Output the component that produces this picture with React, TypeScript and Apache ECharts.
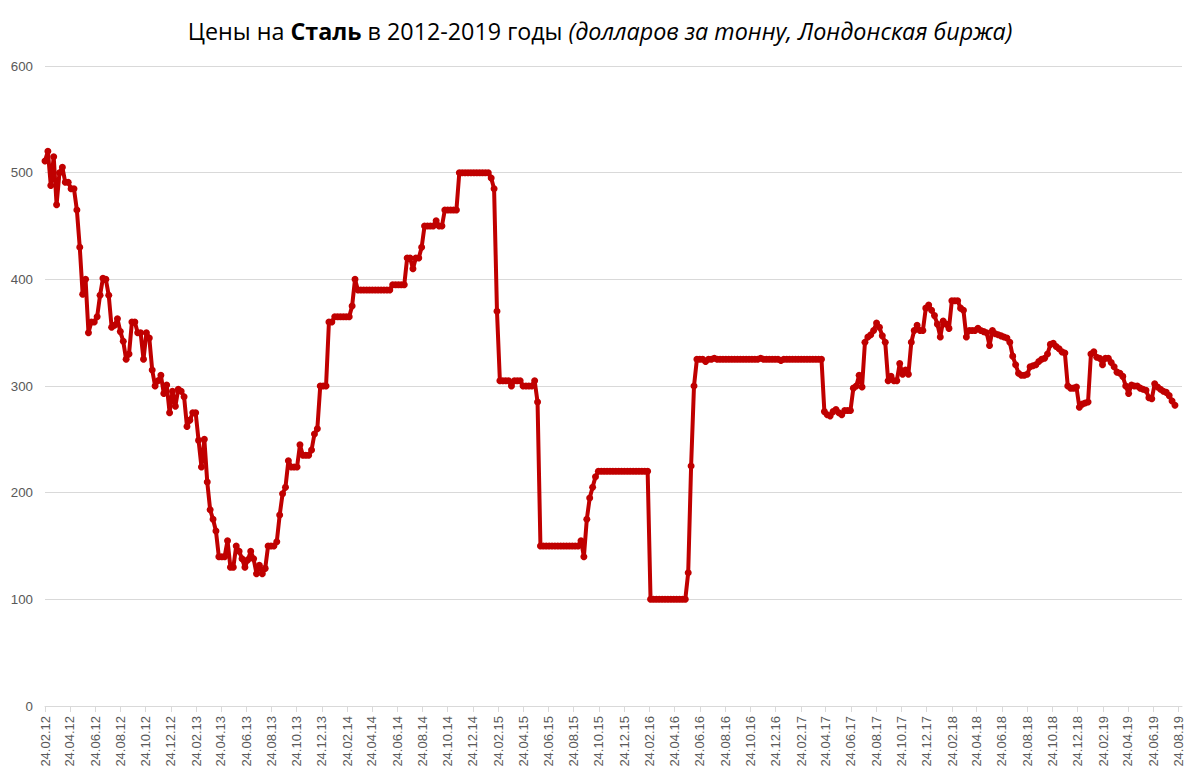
import React, { useEffect, useRef } from 'react';
import * as echarts from 'echarts';

// Weekly observations, first one on the first tick date
const startDate = '24.02.12';
const weekStepDays = 7;
const axisEndDays = 2747;

const tickLabels = [
  '24.02.12', '24.04.12', '24.06.12', '24.08.12', '24.10.12', '24.12.12',
  '24.02.13', '24.04.13', '24.06.13', '24.08.13', '24.10.13', '24.12.13',
  '24.02.14', '24.04.14', '24.06.14', '24.08.14', '24.10.14', '24.12.14',
  '24.02.15', '24.04.15', '24.06.15', '24.08.15', '24.10.15', '24.12.15',
  '24.02.16', '24.04.16', '24.06.16', '24.08.16', '24.10.16', '24.12.16',
  '24.02.17', '24.04.17', '24.06.17', '24.08.17', '24.10.17', '24.12.17',
  '24.02.18', '24.04.18', '24.06.18', '24.08.18', '24.10.18', '24.12.18',
  '24.02.19', '24.04.19', '24.06.19', '24.08.19',
];

const prices2012 = [
  511, 520, 488, 515, 470, 500, 505, 491, 491, 485, 485, 465, 430, 386, 400, 350,
  360, 360, 365, 385, 401, 400, 385, 355, 357, 363, 351, 342, 325, 330, 360, 360,
  350, 350, 325, 350, 345, 315, 300, 305, 310, 293, 301,
];
const prices2013 = [
  275, 295, 281, 297, 295, 290, 262, 268, 275, 275, 249, 224, 250, 210, 184, 175,
  164, 140, 140, 140, 155, 130, 130, 150, 145, 138, 130, 137, 145, 138, 124, 132,
  124, 129, 150, 150, 150, 154, 179, 199, 205, 230, 224, 224, 224, 245, 235, 235,
];
const prices2014 = [
  235, 240, 255, 260, 300, 300, 300, 360, 360, 365, 365, 365, 365, 365, 365, 375,
  400, 390, 390, 390, 390, 390, 390, 390, 390, 390, 390, 390, 390, 395, 395, 395,
  395, 395, 420, 420, 410, 420, 420, 430, 450, 450, 450, 450, 455, 450, 450, 465,
  465, 465, 465, 465, 500, 500, 500, 500, 500, 500, 500, 500, 500, 500, 500, 495,
  485, 370, 305,
];
const prices2015 = [
  305, 305, 305, 300, 305, 305, 305, 300, 300, 300, 300, 305, 285, 150, 150, 150,
  150, 150, 150, 150, 150, 150, 150, 150, 150, 150, 150, 155, 140, 175, 195, 205,
  215, 220, 220, 220, 220, 220, 220, 220, 220, 220, 220, 220, 220, 220, 220, 220,
  220, 220, 220, 100, 100, 100, 100, 100, 100, 100, 100, 100, 100, 100, 100, 100,
  125, 225, 300,
];
const prices2016 = [
  325, 325, 325, 323, 325, 325, 326, 325, 325, 325, 325, 325, 325, 325, 325, 325,
  325, 325, 325, 325, 325, 325, 326, 325, 325, 325, 325, 325, 325, 324, 325, 325,
  325, 325, 325, 325, 325, 325, 325, 325, 325, 325, 325, 325,
];
const prices2017 = [
  276, 273, 272, 276, 278, 275, 273, 277, 277, 277,
  298, 300, 310, 299, 341, 346, 348, 352, 359, 355, 347, 341, 305, 309, 305, 305,
  321, 311, 315, 311, 341, 352, 357, 352, 352, 373, 376, 371, 366, 358, 346, 361,
  358, 354, 380, 380, 380, 373, 371, 346, 352, 352, 352, 354, 352, 351, 350, 338,
  352, 349, 348, 347, 346, 345, 341, 328, 320,
];
const prices2018 = [
  312, 310, 310, 311, 318, 319, 320, 323, 325, 326, 330, 339, 340, 337, 335, 332,
  331, 300, 298, 298, 299, 280, 283, 284, 285, 330, 332, 327, 326, 320, 326, 326,
  322, 318, 313, 312, 309, 300, 293, 301, 300, 300, 298, 297, 296, 289, 288, 302,
  299, 297, 295, 294, 291, 286, 282,
];

const prices = [
  ...prices2012, ...prices2013, ...prices2014, ...prices2015,
  ...prices2016, ...prices2017, ...prices2018,
];

function dayOf(label: string): number {
  const [d, m, y] = label.split('.').map(Number);
  return Math.round(Date.UTC(2000 + y, m - 1, d) / 86400000);
}

const day0 = dayOf(startDate);
const tickDays = tickLabels.map((l) => dayOf(l) - day0);
const labelByDay = new Map<number, string>(tickDays.map((d, i) => [d, tickLabels[i]]));
const seriesData = prices.map((v, i) => [i * weekStepDays, v]);

const RED = '#C00000';
const GRID = '#d9d9d9';
const LABEL = '#595959';
const FONT = '"Liberation Sans", Arial, sans-serif';
const TITLE_FONT = '"Open Sans", sans-serif';
const TITLE_SIZE = 23.3;

export default function App() {
  const ref = useRef<HTMLDivElement>(null);
  useEffect(() => {
    document.body.style.margin = '0';
    const chart = echarts.init(ref.current!, null, { renderer: 'svg' });
    chart.setOption({
      animation: false,
      backgroundColor: '#ffffff',
      title: {
        left: 'center',
        top: 14,
        text: '{n|Цены на }{b|Сталь}{n| в 2012-2019 годы }{i|(долларов за тонну, Лондонская биржа)}',
        textStyle: {
          fontWeight: 'normal',
          rich: {
            n: { fontSize: TITLE_SIZE, color: '#000', fontWeight: 'normal', fontFamily: TITLE_FONT },
            b: { fontSize: TITLE_SIZE, color: '#000', fontWeight: 'bold', fontFamily: TITLE_FONT },
            i: { fontSize: TITLE_SIZE, color: '#000', fontWeight: 'normal', fontStyle: 'italic', fontFamily: TITLE_FONT },
          },
        },
      },
      grid: { left: 45, right: 18, top: 66, bottom: 77 },
      xAxis: {
        type: 'value',
        min: 0,
        max: axisEndDays,
        axisLine: { show: true, onZero: false, lineStyle: { color: GRID, width: 1 } },
        splitLine: { show: false },
        axisTick: { show: true, customValues: tickDays, length: 6, lineStyle: { color: GRID } },
        axisLabel: {
          customValues: tickDays,
          rotate: 90,
          margin: 10,
          fontSize: 13,
          color: LABEL,
          fontFamily: FONT,
          formatter: (v: number) => labelByDay.get(Math.round(v)) ?? '',
        },
      },
      yAxis: {
        type: 'value',
        min: 0,
        max: 600,
        interval: 100,
        axisLine: { show: false },
        axisTick: { show: false },
        splitLine: { lineStyle: { color: GRID, width: 1 } },
        axisLabel: { fontSize: 13.3, color: LABEL, fontFamily: FONT, margin: 12 },
      },
      series: [
        {
          type: 'line',
          data: seriesData,
          symbol: 'circle',
          symbolSize: 7,
          showAllSymbol: true,
          lineStyle: { color: RED, width: 4 },
          itemStyle: { color: RED },
        },
      ],
    });
    return () => chart.dispose();
  }, []);
  return <div ref={ref} style={{ width: 1200, height: 783 }} />;
}
